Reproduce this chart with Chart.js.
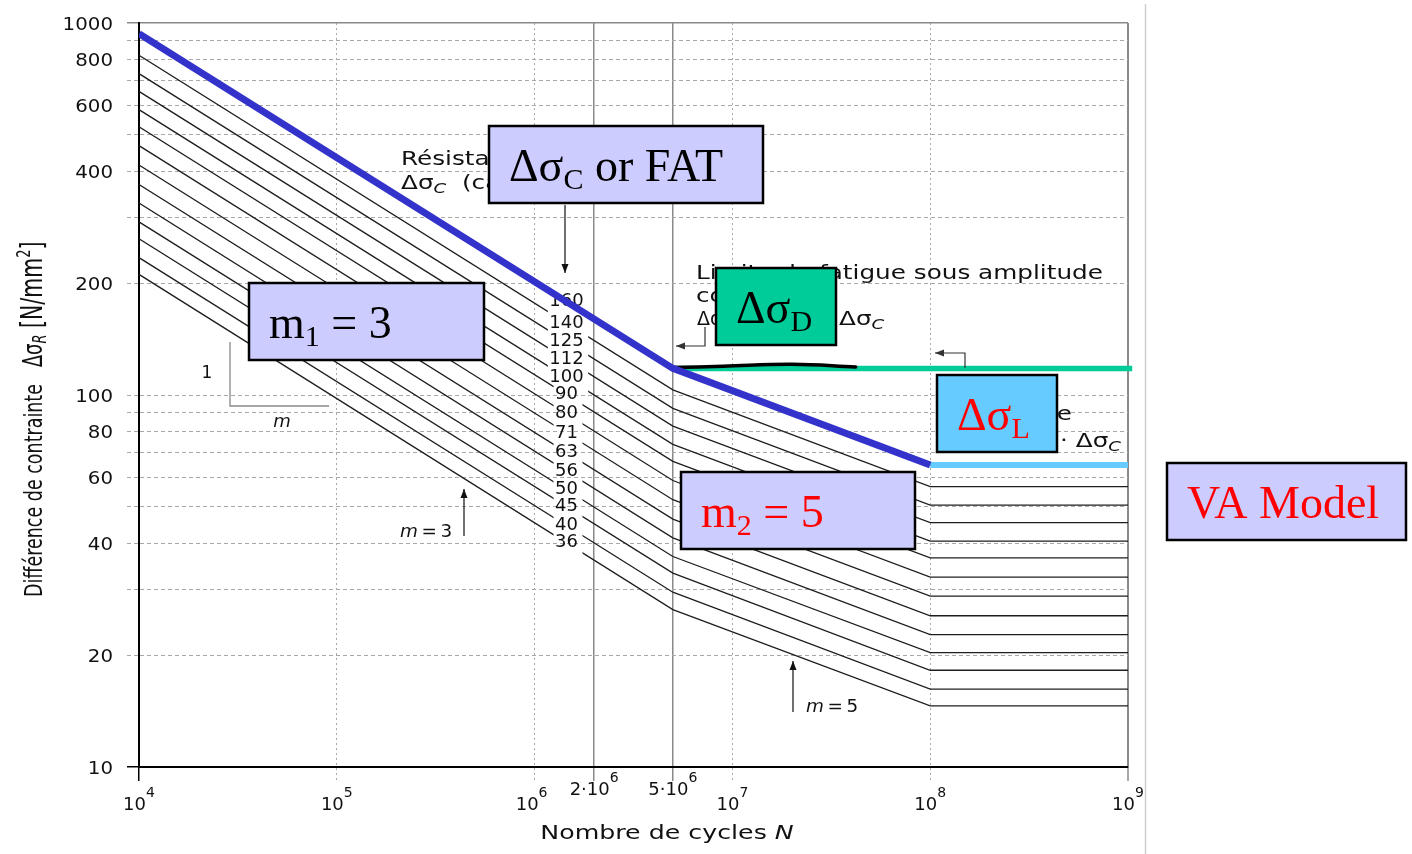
<!DOCTYPE html>
<html>
<head>
<meta charset="utf-8">
<title>Courbes de résistance à la fatigue</title>
<script src="https://cdn.jsdelivr.net/npm/chart.js@4.4.1/dist/chart.umd.min.js"></script>
<style>
  html, body { margin: 0; padding: 0; background: #fff; }
  #wrap { position: relative; width: 1412px; height: 854px; }
</style>
</head>
<body>
<div id="wrap"><canvas id="snChart"></canvas></div>
<script>
// ---- valeurs ----
// catégories de détail (Δσc à 2·10^6 cycles) et leurs points de cassure
const categories = [160, 140, 125, 112, 100, 90, 80, 71, 63, 56, 50, 45, 40, 36];
const sigma1e4   = [936, 819, 731, 655, 585, 526, 468, 415, 368, 328, 292, 263, 234, 211];
const sigmaD     = [117.9, 103.2, 92.1, 82.5, 73.7, 66.3, 58.9, 52.3, 46.4, 41.3, 36.8, 33.2, 29.5, 26.5];
const sigmaL     = [64.8, 56.7, 50.6, 45.4, 40.5, 36.5, 32.4, 28.8, 25.5, 22.7, 20.3, 18.2, 16.2, 14.6];
const breakN     = [1e4, 5e6, 1e8, 1e9];

// courbes surlignées
const fatN      = [1e4, 5e6, 1e8];
const fatSigma  = [936, 117.9, 64.8];
const cafN      = [5e6, 1.05e9];
const cafSigma  = [117.9, 117.9];
const cutN      = [1e8, 1e9];
const cutSigma  = [64.8, 64.8];
const handN     = [5e6, 9e6, 2e7, 4.2e7];
const handSigma = [118.5, 119.5, 121, 119];

// axes
const yGridValues = [10, 20, 30, 40, 50, 60, 70, 80, 90, 100, 200, 300, 400, 500, 600, 700, 800, 900, 1000];
const yTickLabels = [10, 20, 40, 60, 80, 100, 200, 400, 600, 800, 1000];
const xGridValues = [1e4, 1e5, 1e6, 2e6, 5e6, 1e7, 1e8, 1e9];
const xTickBase   = ['10', '10', '10', '2·10', '5·10', '10', '10', '10'];
const xTickExp    = ['4', '5', '6', '6', '6', '7', '8', '9'];

const labelN = 1.45e6;   // où sont posées les étiquettes des catégories
const FONT = '"DejaVu Sans", Verdana, sans-serif';
const SERIF = '"Liberation Serif", "Times New Roman", serif';

function pts(ns, ss) { return ns.map((n, k) => ({ x: n, y: ss[k] })); }

// texte en plusieurs morceaux (indices, exposants), avec étirement horizontal
function drawRuns(ctx, parts, x, y, opt) {
    opt = opt || {};
    parts = parts.map(p => typeof p === 'string' ? { t: p } : p);
    const fam = opt.family || FONT;
    const fontOf = p => (p.i ? 'italic ' : '') + (p.s || opt.size || 18) + 'px ' + fam;
    ctx.save();
    ctx.translate(x, y);
    if (opt.rotate) ctx.rotate(opt.rotate);
    ctx.scale(opt.sx || 1, opt.sy || 1);
    ctx.textAlign = 'left';
    ctx.textBaseline = 'alphabetic';
    ctx.fillStyle = opt.color || '#111';
    let w = 0;
    parts.forEach(p => { ctx.font = fontOf(p); w += ctx.measureText(p.t).width; });
    let cx = opt.align === 'center' ? -w / 2 : (opt.align === 'right' ? -w : 0);
    parts.forEach(p => { ctx.font = fontOf(p); ctx.fillText(p.t, cx, p.dy || 0); cx += ctx.measureText(p.t).width; });
    ctx.restore();
}

function arrow(ctx, line, color) {
    ctx.save();
    ctx.strokeStyle = color; ctx.fillStyle = color; ctx.lineWidth = 1.2;
    ctx.beginPath();
    line.forEach((p, k) => k ? ctx.lineTo(p[0], p[1]) : ctx.moveTo(p[0], p[1]));
    ctx.stroke();
    const [x1, y1] = line[line.length - 2], [x2, y2] = line[line.length - 1];
    const a = Math.atan2(y2 - y1, x2 - x1), L = 9, W = 3.5;
    ctx.beginPath();
    ctx.moveTo(x2, y2);
    ctx.lineTo(x2 - L * Math.cos(a) + W * Math.sin(a), y2 - L * Math.sin(a) - W * Math.cos(a));
    ctx.lineTo(x2 - L * Math.cos(a) - W * Math.sin(a), y2 - L * Math.sin(a) + W * Math.cos(a));
    ctx.closePath(); ctx.fill();
    ctx.restore();
}

function box(ctx, x1, y1, x2, y2, fill, parts, color) {
    ctx.save();
    ctx.fillStyle = fill;
    ctx.fillRect(x1, y1, x2 - x1, y2 - y1);
    ctx.lineWidth = 2.5; ctx.strokeStyle = '#000';
    ctx.strokeRect(x1, y1, x2 - x1, y2 - y1);
    ctx.restore();
    drawRuns(ctx, parts, x1 + 20, y1 + 55, { family: SERIF, size: 46, color: color });
}

// ---- jeux de données ----
const datasets = [
    { data: pts(fatN, fatSigma), borderColor: '#3333cc', borderWidth: 7 },
    { data: pts(handN, handSigma), borderColor: '#000', borderWidth: 3.5, tension: 0.4, borderCapStyle: 'round' },
    { data: pts(cafN, cafSigma), borderColor: '#00cc99', borderWidth: 5.5, clip: 8 },
    { data: pts(cutN, cutSigma), borderColor: '#66ccff', borderWidth: 6 }
];
const firstThin = datasets.length;
categories.forEach((c, i) => {
    const s = [sigma1e4[i], sigmaD[i], sigmaL[i], sigmaL[i]];
    datasets.push({ label: String(c), data: pts(breakN, s), borderColor: '#1e1e1e', borderWidth: 1.3 });
});

function labelGeom(chart, i) {
    const meta = chart.getDatasetMeta(firstThin + i);
    const p0 = meta.data[0], p1 = meta.data[1];
    const cx = chart.scales.x.getPixelForValue(labelN);
    const cy = p0.y + (cx - p0.x) / (p1.x - p0.x) * (p1.y - p0.y) - 2;
    chart.ctx.save();
    chart.ctx.font = '18px ' + FONT;
    const w = chart.ctx.measureText(String(categories[i])).width;
    chart.ctx.restore();
    return { cx, cy, x1: cx - w / 2 - 1.5, x2: cx + w / 2 + 4.5 };
}

const solidX = v => v === 2e6 || v === 5e6 || v === 1e9 || v === 1e4;
const solidY = v => v === 10 || v === 1000;

// coupure des lignes fines sous les étiquettes
const gapPlugin = {
    id: 'gaps',
    beforeDatasetDraw(chart, args) {
        const i = args.index - firstThin;
        if (i < 0) return;
        const g = labelGeom(chart, i), ctx = chart.ctx;
        ctx.save();
        ctx.beginPath();
        ctx.rect(0, 0, chart.width, chart.height);
        ctx.rect(g.x1, 0, g.x2 - g.x1, chart.height);
        ctx.clip('evenodd');
    },
    afterDatasetDraw(chart, args) {
        if (args.index >= firstThin) chart.ctx.restore();
    },
    beforeDatasetsDraw(chart) {
        categories.forEach((c, i) => {
            const g = labelGeom(chart, i);
            drawRuns(chart.ctx, [String(c)], g.cx, g.cy + 6.5, { size: 18, align: 'center' });
        });
    }
};

const decorPlugin = {
    id: 'decor',
    afterDatasetsDraw(chart) {
        const ctx = chart.ctx, xs = chart.scales.x, ys = chart.scales.y, a = chart.chartArea;

        // graduations
        yTickLabels.forEach(v => drawRuns(ctx, [String(v)], 113, ys.getPixelForValue(v) + 6.5, { size: 18, sx: 1.1, align: 'right' }));
        xGridValues.forEach((v, i) => {
            const raised = v === 2e6 || v === 5e6;
            const x = xs.getPixelForValue(v) + (v === 1e6 ? -3 : 0);
            drawRuns(ctx, [xTickBase[i], { t: xTickExp[i], s: 14, dy: -13 }], x, a.bottom + (raised ? 28 : 43), { size: 18, align: 'center' });
        });

        // titres des axes
        drawRuns(ctx, ['Nombre de cycles ', { t: 'N', i: true }], 667, a.bottom + 72, { size: 19, sx: 1.33, align: 'center' });
        drawRuns(ctx, ['Différence de contrainte   ', { t: 'Δσ', s: 18 }, { t: 'R', i: true, s: 13, dy: 3 }, { t: ' [N/mm', s: 20.5 }, { t: '2', s: 13, dy: -8 }, { t: ']', s: 20.5 }],
            42, 597, { size: 17.5, rotate: -Math.PI / 2, sy: 1.45 });

        // textes de la figure d'origine
        const sub = t => ({ t: t, i: true, s: 14, dy: 4 });
        drawRuns(ctx, ['Résistance à la fatigue'], 401, 165, { size: 19, sx: 1.3 });
        drawRuns(ctx, ['Δσ', sub('C'), '  (catégorie de détail)'], 401, 189, { size: 19, sx: 1.3 });
        drawRuns(ctx, ['Limite de fatigue sous amplitude'], 696, 279, { size: 19, sx: 1.3 });
        drawRuns(ctx, ['constante'], 696, 302, { size: 19, sx: 1.3 });
        drawRuns(ctx, ['Δσ', sub('D'), ' = 0,737 ·'], 697, 325, { size: 19, sx: 1.0 });
        drawRuns(ctx, ['Δσ', sub('C')], 839, 325, { size: 19, sx: 1.3 });
        drawRuns(ctx, ['troncature'], 1072, 420, { size: 19, sx: 1.3, align: 'right' });
        drawRuns(ctx, ['0,405 · Δσ', sub('C')], 1121, 447, { size: 19, sx: 1.3, align: 'right' });

        // pente 1 : m
        ctx.save();
        ctx.strokeStyle = '#888'; ctx.lineWidth = 1.3;
        ctx.beginPath(); ctx.moveTo(230, 342); ctx.lineTo(230, 406); ctx.lineTo(329, 406); ctx.stroke();
        ctx.restore();
        drawRuns(ctx, ['1'], 207, 378, { size: 17, align: 'center' });
        drawRuns(ctx, [{ t: 'm', i: true }], 282, 427, { size: 18, align: 'center' });
        drawRuns(ctx, [{ t: 'm', i: true }, '\u2009=\u20093'], 400, 537, { size: 17, sx: 1.08 });
        drawRuns(ctx, [{ t: 'm', i: true }, '\u2009=\u20095'], 806, 712, { size: 17, sx: 1.08 });

        // flèches
        arrow(ctx, [[565, 205], [565, 273]], '#111');
        arrow(ctx, [[464, 536], [464, 489]], '#111');
        arrow(ctx, [[793, 712], [793, 661]], '#111');
        arrow(ctx, [[705, 327], [705, 346], [676, 346]], '#333');
        arrow(ctx, [[965, 368], [965, 353], [935, 353]], '#333');

        // cadres ajoutés
        const sc = t => ({ t: t, s: 30, dy: 8 });
        box(ctx, 489, 126, 763, 203, '#ccccff', ['Δσ', sc('C'), ' or FAT'], '#000');
        box(ctx, 249, 283, 484, 360, '#ccccff', ['m', sc('1'), ' = 3'], '#000');
        box(ctx, 716, 268, 836, 345, '#00cc99', ['Δσ', sc('D')], '#000');
        box(ctx, 937, 375, 1057, 452, '#66ccff', ['Δσ', sc('L')], '#ff0000');
        box(ctx, 681, 472, 915, 549, '#ccccff', ['m', sc('2'), ' = 5'], '#ff0000');
        box(ctx, 1167, 463, 1406, 540, '#ccccff', ['VA Model'], '#ff0000');

        // bord de la diapositive
        ctx.save();
        ctx.strokeStyle = '#cfcfcf'; ctx.lineWidth = 1.5;
        ctx.beginPath(); ctx.moveTo(1145.5, 4); ctx.lineTo(1145.5, 854); ctx.stroke();
        ctx.restore();
    }
};

new Chart(document.getElementById('snChart'), {
    type: 'line',
    data: { datasets: datasets },
    plugins: [gapPlugin, decorPlugin],
    options: {
        responsive: true,
        maintainAspectRatio: false,
        animation: false,
        events: [],
        layout: { padding: { left: 0, right: 284, top: 23, bottom: 0 } },
        elements: { point: { radius: 0 }, line: { tension: 0, borderCapStyle: 'butt' } },
        plugins: { legend: { display: false }, tooltip: { enabled: false } },
        scales: {
            x: {
                type: 'logarithmic', min: 1e4, max: 1e9,
                afterBuildTicks: s => { s.ticks = xGridValues.map(v => ({ value: v })); },
                afterFit: s => { s.height = 87; },
                ticks: { display: false },
                grid: {
                    drawTicks: true, tickLength: 14,
                    color: c => c.tick && c.tick.value === 1e4 ? '#000' : (c.tick && solidX(c.tick.value) ? '#8a8a8a' : '#a8a8a8'),
                    tickColor: c => c.tick && c.tick.value === 1e4 ? '#000' : (c.tick && solidX(c.tick.value) ? '#8a8a8a' : '#a8a8a8'),
                    lineWidth: c => c.tick && c.tick.value === 1e9 ? 2 : (c.tick && solidX(c.tick.value) ? 1.5 : 1),
                    tickWidth: c => c.tick && solidX(c.tick.value) ? 1.5 : 1,
                    tickBorderDash: c => c.tick && solidX(c.tick.value) ? [] : [2, 3]
                },
                border: { display: true, color: '#000', width: 2, dash: c => c.tick && !solidX(c.tick.value) ? [2, 3] : [] }
            },
            y: {
                type: 'logarithmic', min: 10, max: 1000,
                afterBuildTicks: s => { s.ticks = yGridValues.map(v => ({ value: v })); },
                afterFit: s => { s.width = 139; },
                ticks: { display: false },
                grid: {
                    drawTicks: true, tickLength: 12,
                    color: c => c.tick && c.tick.value === 10 ? '#000' : (c.tick && solidY(c.tick.value) ? '#8a8a8a' : '#a8a8a8'),
                    tickColor: c => c.tick && c.tick.value === 10 ? '#000' : (c.tick && solidY(c.tick.value) ? '#8a8a8a' : '#a8a8a8'),
                    lineWidth: c => c.tick && solidY(c.tick.value) ? 1.5 : 1,
                    tickBorderDash: c => c.tick && solidY(c.tick.value) ? [] : [4, 3]
                },
                border: { display: true, color: '#000', width: 2, dash: c => c.tick && !solidY(c.tick.value) ? [4, 3] : [] }
            }
        }
    }
});
</script>
</body>
</html>
